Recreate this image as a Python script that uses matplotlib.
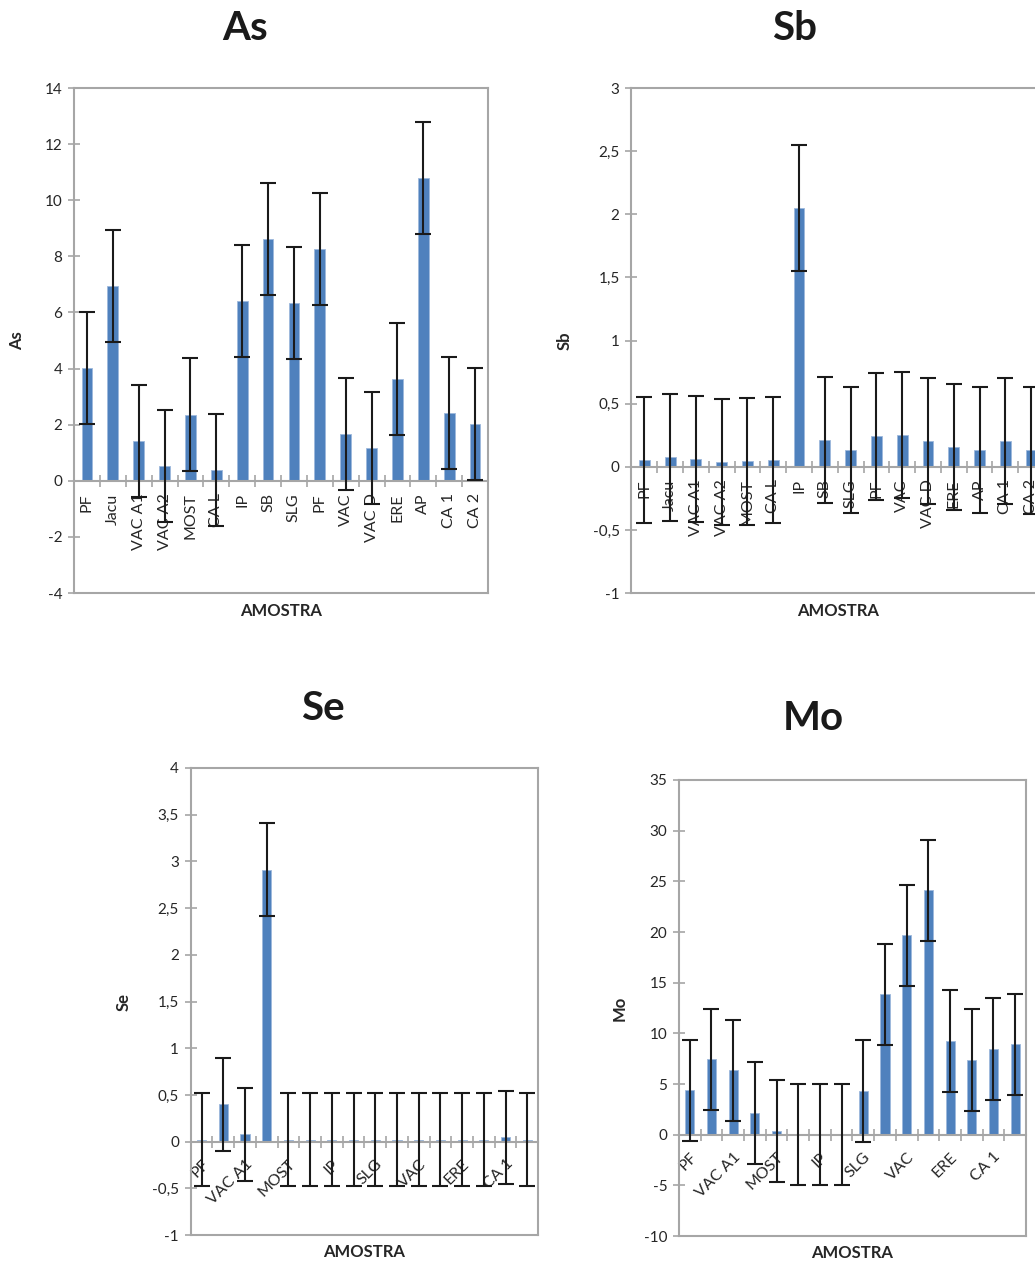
import numpy as np
import matplotlib.pyplot as plt
from matplotlib.ticker import FixedLocator, FuncFormatter

plt.switch_backend('agg')
plt.rcParams['font.family'] = ['Lato', 'DejaVu Sans']

# sample codes, same order in every panel
amostras = ["PF", "Jacu", "VAC A1", "VAC A2", "MOST", "CA L", "IP", "SB",
            "SLG", "PF", "VAC", "VAC D", "ERE", "AP", "CA 1", "CA 2"]

as_vals = [4.03, 6.94, 1.42, 0.53, 2.36, 0.38, 6.40, 8.62,
           6.35, 8.27, 1.67, 1.18, 3.62, 10.80, 2.41, 2.03]
as_err = 2.0

sb_vals = [0.055, 0.074, 0.063, 0.040, 0.042, 0.055, 2.05, 0.21,
           0.13, 0.24, 0.25, 0.206, 0.156, 0.135, 0.206, 0.129]
sb_err = 0.5

se_vals = [0.02, 0.40, 0.077, 2.91, 0.02, 0.02, 0.02, 0.02,
           0.02, 0.02, 0.02, 0.02, 0.02, 0.02, 0.045, 0.02]
se_err = 0.5

mo_vals = [4.37, 7.43, 6.34, 2.14, 0.36, 0.0, 0.0, 0.0,
           4.30, 13.86, 19.67, 24.10, 9.26, 7.36, 8.47, 8.90]
mo_err = 5.0

BLUE = "#4F81BD"
GRAY = "#A6A6A6"
TXT = "#262626"


def comma(v, pos):
    s = "%g" % v
    return s.replace(".", ",")


def panel(fig, rect, vals, err, ylim, ystep, label, rot, every, ylab_x):
    ax = fig.add_axes(rect)
    x = np.arange(len(vals))
    ax.bar(x, vals, width=0.42, color=BLUE, edgecolor="#9DB8DC", linewidth=0.6, zorder=2)
    ax.errorbar(x, vals, yerr=err, fmt="none", ecolor="#1a1a1a", elinewidth=1.5,
                capsize=6, capthick=1.5, zorder=3)
    ax.set_xlim(-0.5, len(vals) - 0.5)
    ax.set_ylim(*ylim)

    for s in ["left", "right", "top"]:
        ax.spines[s].set_color(GRAY)
        ax.spines[s].set_linewidth(1.5)
    ax.spines["bottom"].set_position(("data", 0))
    ax.spines["bottom"].set_color(GRAY)
    ax.spines["bottom"].set_linewidth(1.5)
    ax.plot([0, 1], [0, 0], transform=ax.transAxes, color=GRAY, lw=1.5, clip_on=False, zorder=1)

    ax.yaxis.set_major_locator(FixedLocator(np.arange(ylim[0], ylim[1] + ystep / 2, ystep)))
    ax.yaxis.set_major_formatter(FuncFormatter(comma))
    ax.tick_params(axis="y", direction="inout", length=9, width=1.2, color=GRAY,
                   labelsize=11, labelcolor=TXT, pad=4)

    ax.xaxis.set_minor_locator(FixedLocator(np.arange(0.5, len(vals) - 0.5)))
    ax.tick_params(axis="x", which="minor", direction="inout", length=9, width=1.2, color=GRAY)
    ticks = x[::every]
    ax.set_xticks(ticks)
    if rot == 90:
        ax.set_xticklabels([amostras[i] for i in ticks], rotation=90, ha="center", va="top")
        ax.tick_params(axis="x", which="major", length=0, pad=9, labelsize=11.5, labelcolor=TXT)
    else:
        ax.set_xticklabels([amostras[i] for i in ticks], rotation=45, ha="right", va="top",
                           rotation_mode="anchor")
        ax.tick_params(axis="x", which="major", length=0, pad=11, labelsize=11.5, labelcolor=TXT)

    ax.set_ylabel(label, fontsize=12, fontweight="bold", color=TXT)
    ax.yaxis.set_label_coords(ylab_x, 0.5)
    ax.set_xlabel("AMOSTRA", fontsize=12, fontweight="bold", color=TXT)
    ax.xaxis.set_label_coords(0.5, -0.02)
    return ax


fig = plt.figure(figsize=(10.35, 12.65), dpi=100)

panel(fig, [0.0715, 0.5312, 0.400, 0.3992], as_vals, as_err, (-4, 14), 2, "As", 90, 1, -0.118)
panel(fig, [0.6101, 0.5312, 0.3986, 0.3992], sb_vals, sb_err, (-1, 3), 0.5, "Sb", 90, 1, -0.142)
panel(fig, [0.1843, 0.0237, 0.3356, 0.3692], se_vals, se_err, (-1, 4), 0.5, "Se", 45, 2, -0.169)
panel(fig, [0.6560, 0.0229, 0.3353, 0.3605], mo_vals, mo_err, (-10, 35), 5, "Mo", 45, 2, -0.147)

for t, (px, py) in {"As": (245, 28), "Sb": (795, 28), "Se": (323, 708), "Mo": (813, 718)}.items():
    fig.text(px / 1035, 1 - py / 1265, t, ha="center", va="center",
             fontsize=29, fontweight="bold", color="#1a1a1a")

fig.savefig("out.png", dpi=100)
